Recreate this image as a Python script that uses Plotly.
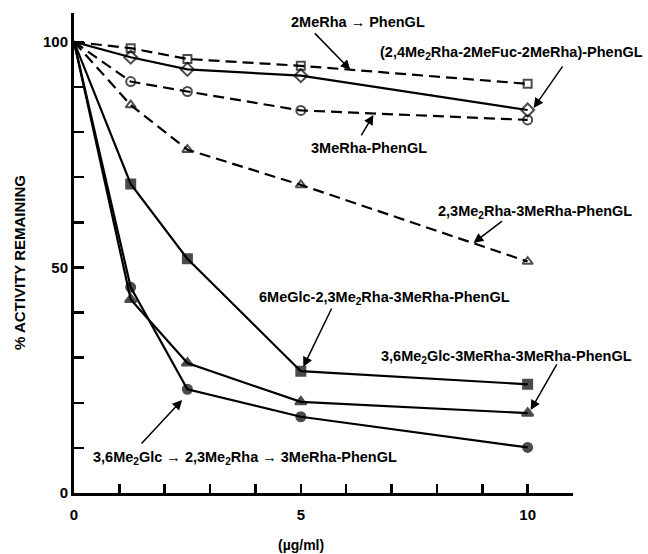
import plotly.graph_objects as go

# ---- data ----
doses = [0, 1.25, 2.5, 5, 10]
s_2MeRha = [100, 98.6, 96.2, 94.7, 90.7]
s_24Me2Rha = [100, 96.6, 93.9, 92.5, 84.9]
s_3MeRha = [100, 91.2, 89.0, 84.8, 82.7]
s_23Me2Rha = [100, 86.0, 76.1, 68.3, 51.3]
s_6MeGlc = [100, 68.5, 51.9, 27.0, 24.1]
s_36Me2Glc_3MeRha = [100, 42.9, 28.8, 20.2, 17.7]
s_36Me2Glc_23Me2Rha = [100, 45.6, 23.0, 16.9, 10.1]

x_tickvals = list(range(0, 12))
x_ticktext = ["0", "", "", "", "", "5", "", "", "", "", "10", ""]
y_tickvals = list(range(0, 101, 10))
y_ticktext = ["0", "", "", "", "", "50", "", "", "", "", "100"]

labels = {
    "2MeRha": "2MeRha \u2192 PhenGL",
    "24Me2Rha": "(2,4Me<sub>2</sub>Rha-2MeFuc-2MeRha)-PhenGL",
    "3MeRha": "3MeRha-PhenGL",
    "23Me2Rha": "2,3Me<sub>2</sub>Rha-3MeRha-PhenGL",
    "6MeGlc": "6MeGlc-2,3Me<sub>2</sub>Rha-3MeRha-PhenGL",
    "36_3MeRha": "3,6Me<sub>2</sub>Glc-3MeRha-3MeRha-PhenGL",
    "36_23Me2Rha": "3,6Me<sub>2</sub>Glc \u2192 2,3Me<sub>2</sub>Rha \u2192 3MeRha-PhenGL",
}

FONT = "Liberation Sans, Arial, Helvetica, sans-serif"
DASH = "11px,6px"

series = [
    ("2MeRha", s_2MeRha, "square-open", DASH, 8),
    ("24Me2Rha", s_24Me2Rha, "diamond-open", "solid", 10),
    ("3MeRha", s_3MeRha, "circle-open", DASH, 9),
    ("23Me2Rha", s_23Me2Rha, "triangle-up-open", DASH, 9),
    ("6MeGlc", s_6MeGlc, "square", "solid", 9),
    ("36_3MeRha", s_36Me2Glc_3MeRha, "triangle-up", "solid", 10),
    ("36_23Me2Rha", s_36Me2Glc_23Me2Rha, "circle", "solid", 9),
]

fig = go.Figure()
for key, vals, sym, dash, msize in series:
    fig.add_trace(go.Scatter(
        x=doses, y=vals, mode="lines+markers", name=key,
        line=dict(color="black", width=2.2, dash=dash),
        marker=dict(symbol=sym, size=[0] + [msize] * (len(doses) - 1),
                    color="black", line=dict(color="black", width=2)),
        showlegend=False, cliponaxis=False, hoverinfo="skip",
    ))

# plot area in pixels
L, R, T, B = 74, 573, 13, 493
W, H = 648, 554


def px(x):
    return (x - L) / (R - L)


def py(y):
    return (B - y) / (B - T)


def dx(xp):
    return (xp - L) / 45.3


def dy(yp):
    return (B - yp) / 4.51


afont = dict(family=FONT, size=14.5, color="black", weight="bold")

# text labels (x, anchor, centre y in pixels)
text_pos = {
    "2MeRha": (290, "left", 22),
    "24Me2Rha": (644, "right", 53),
    "3MeRha": (310, "left", 148),
    "23Me2Rha": (437, "left", 212),
    "6MeGlc": (258, "left", 298),
    "36_3MeRha": (380, "left", 357),
    "36_23Me2Rha": (92, "left", 458),
}
for key, (xp, anchor, yp) in text_pos.items():
    fig.add_annotation(x=px(xp), y=py(yp), xref="paper", yref="paper",
                       text=labels[key], showarrow=False, xanchor=anchor,
                       yanchor="middle", font=afont, borderpad=0)

# arrows: (tail px, head px)
arrows = [
    ((313, 32), (350, 70)),
    ((563, 65), (533, 108)),
    ((360, 137), (373, 115)),
    ((503, 220), (473, 243)),
    ((332, 307), (303, 367)),
    ((557, 363), (530, 410)),
    ((140, 445), (182, 400)),
]
for (tx, ty), (hx, hy) in arrows:
    fig.add_annotation(x=dx(hx), y=dy(hy), xref="x", yref="y",
                       ax=tx - hx, ay=ty - hy, axref="pixel", ayref="pixel",
                       text="", showarrow=True, arrowhead=2, arrowsize=1.3,
                       arrowwidth=1.5, arrowcolor="black")

# axis titles
fig.add_annotation(x=px(19), y=py(263), xref="paper", yref="paper",
                   text="% ACTIVITY REMAINING", textangle=-90, showarrow=False,
                   font=dict(family=FONT, size=15, color="black", weight="bold"),
                   xanchor="center", yanchor="middle")
fig.add_annotation(x=5, y=py(545), xref="x", yref="paper",
                   text="(\u00b5g/ml)", showarrow=False, borderpad=0,
                   font=dict(family=FONT, size=14, color="black", weight="bold"),
                   xanchor="center", yanchor="middle")

tickfont = dict(family=FONT, size=15, color="black", weight="bold")
fig.update_layout(
    width=W, height=H,
    margin=dict(l=L, r=W - R, t=T, b=H - B, pad=0),
    paper_bgcolor="white", plot_bgcolor="white",
    hovermode=False,
    xaxis=dict(range=[0, 11], tickvals=x_tickvals, ticktext=x_ticktext,
               ticks="inside", ticklen=9, tickwidth=2.5, tickcolor="black",
               showline=True, linewidth=3, linecolor="black",
               showgrid=False, zeroline=False, tickfont=tickfont,
               ticklabelstandoff=6),
    yaxis=dict(range=[0, 106.4], tickvals=y_tickvals, ticktext=y_ticktext,
               ticks="inside", ticklen=10, tickwidth=2.5, tickcolor="black",
               showline=True, linewidth=3, linecolor="black",
               showgrid=False, zeroline=False, tickfont=tickfont),
)

fig.write_html(
    "out.html",
    config={"displayModeBar": False, "staticPlot": True},
    post_script="document.body.style.margin='0';document.body.style.overflow='hidden';",
)
